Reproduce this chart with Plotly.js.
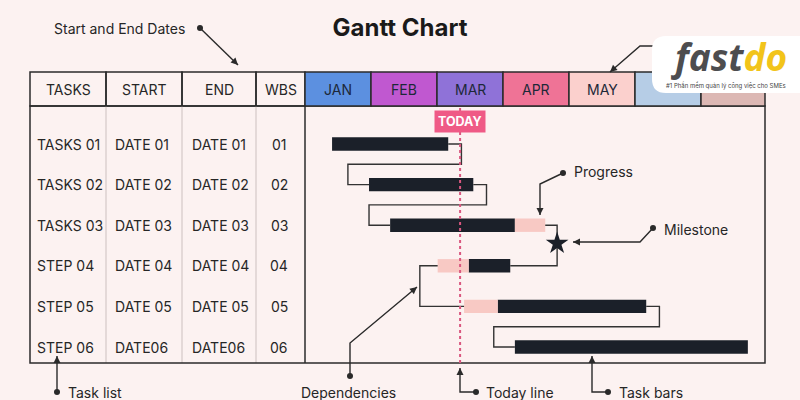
<!DOCTYPE html>
<html><head><meta charset="utf-8">
<script src="https://cdn.plot.ly/plotly-3.0.1.min.js"></script>
<style>html,body{margin:0;padding:0;background:#fcf2f1;}#chart{width:800px;height:400px;}</style>
</head><body><div id="chart"></div>
<script>
// ---------- data ----------
const taskNames = ['TASKS 01','TASKS 02','TASKS 03','STEP 04','STEP 05','STEP 06'];
const startLabels = ['DATE 01','DATE 02','DATE 03','DATE 04','DATE 05','DATE06'];
const endLabels = ['DATE 01','DATE 02','DATE 03','DATE 04','DATE 05','DATE06'];
const wbsCodes = ['01','02','03','04','05','06'];
const headerLabels = ['TASKS','START','END','WBS'];
const monthLabels = ['JAN','FEB','MAR','APR','MAY','',''];
const monthColors = ['#5c90e0','#c058d0','#8f72d8','#ef7396','#fbd0cd','#b6cde6','#dcb8b4'];
// task bars, in months from start of JAN
const taskStart = [0.41, 0.97, 1.29, 2.48, 2.92, 3.18];
const taskEnd   = [2.17, 2.55, 3.18, 3.11, 5.17, 6.71];
// light (progress) segments
const slackStart = [null, null, 3.18, 2.01, 2.41, null];
const slackEnd   = [null, null, 3.64, 2.48, 2.92, null];
const todayValue = 2.35;
const milestoneX = 3.82;
const milestoneRow = 2.45;
// dependencies: [from, to, type]
const links = [[0,1,'FS'],[1,2,'FS'],[3,4,'SS'],[4,5,'FS']];
const milestoneLinks = [2, 3];

// ---------- layout geometry ----------
const W = 800, H = 400;
const X0 = 305, MW = 66, Y0 = 144, RH = 40.6;
const P = x => x / W;
const Q = y => 1 - y / H;
const DARK = '#2b2b2b', LIGHT = '#dcd0cf', TXT = '#262626';
const FONT = 'Inter, "Noto Sans", sans-serif';

const rows = taskNames.map((_, i) => i);
const rowStart = i => Math.min(taskStart[i], slackStart[i] == null ? Infinity : slackStart[i]);
const rowEnd = i => Math.max(taskEnd[i], slackEnd[i] == null ? -Infinity : slackEnd[i]);

// connectors
const cx = [], cy = [];
const OUT = 0.2, BACK = 0.32, BACK2 = 0.27;
links.forEach(([a, b, t]) => {
  if (t === 'FS') {
    const e = rowEnd(a), s = rowStart(b);
    cx.push(e, e + OUT, e + OUT, s - BACK, s - BACK, s, null);
    cy.push(a, a, a + 0.5, a + 0.5, b, b, null);
  } else {
    const s1 = rowStart(a), s2 = rowStart(b);
    cx.push(s1, s1 - BACK2, s1 - BACK2, s2, null);
    cy.push(a, a, b, b, null);
  }
});
milestoneLinks.forEach(r => {
  cx.push(rowEnd(r), milestoneX, milestoneX, null);
  cy.push(r, r, milestoneRow, null);
});

const traces = [
  {type: 'scatter', mode: 'lines', x: cx, y: cy, line: {color: '#333', width: 1.4}, hoverinfo: 'skip', showlegend: false},
  {type: 'bar', orientation: 'h', y: rows, base: taskStart, x: taskEnd.map((e, i) => e - taskStart[i]),
   width: 0.33, marker: {color: '#1b2029'}, hoverinfo: 'skip', showlegend: false},
  {type: 'bar', orientation: 'h', y: rows, base: slackStart,
   x: slackEnd.map((e, i) => e == null ? null : e - slackStart[i]),
   width: 0.33, marker: {color: '#f8c9c4'}, hoverinfo: 'skip', showlegend: false},
  {type: 'scatter', mode: 'markers', x: [milestoneX], y: [milestoneRow],
   marker: {symbol: 'star', size: 17, color: '#1b2029', line: {width: 0}}, hoverinfo: 'skip', showlegend: false}
];

const shapes = [];
const annotations = [];
function txt(o) { annotations.push(Object.assign({showarrow: false, xanchor: 'center', yanchor: 'middle'}, o)); }

// table header cells (left)
const colEdges = [30, 106, 182, 256, 305];
for (let i = 0; i < 4; i++) {
  shapes.push({type: 'rect', xref: 'paper', yref: 'paper', x0: P(colEdges[i]), x1: P(colEdges[i+1]),
    y0: Q(106), y1: Q(72), line: {color: DARK, width: 1.5}, fillcolor: 'rgba(0,0,0,0)', layer: 'below'});
  txt({xref: 'paper', yref: 'paper', x: P((colEdges[i] + colEdges[i+1]) / 2), y: Q(89),
    text: headerLabels[i], font: {size: 14, color: TXT, family: FONT}});
}
// body separators
[106, 182, 256].forEach(x => shapes.push({type: 'line', xref: 'paper', yref: 'paper',
  x0: P(x), x1: P(x), y0: Q(106), y1: Q(363), line: {color: LIGHT, width: 1.5}, layer: 'below'}));
shapes.push({type: 'rect', xref: 'paper', yref: 'paper', x0: P(30), x1: P(765), y0: Q(363), y1: Q(106),
  line: {color: DARK, width: 1.5}, fillcolor: 'rgba(0,0,0,0)', layer: 'below'});
shapes.push({type: 'line', xref: 'paper', yref: 'paper', x0: P(305), x1: P(305), y0: Q(363), y1: Q(106),
  line: {color: DARK, width: 1.5}, layer: 'below'});

// month header cells
const tableEnd = (765 - X0) / MW;
monthLabels.forEach((m, i) => {
  shapes.push({type: 'rect', xref: 'x', yref: 'paper', x0: i, x1: Math.min(i + 1, tableEnd),
    y0: Q(106), y1: Q(72), fillcolor: monthColors[i], line: {color: DARK, width: 1.5}, layer: 'below'});
  if (m) txt({xref: 'x', yref: 'paper', x: i + 0.5, y: Q(89), text: m,
    font: {size: 14, color: '#1d2838', family: FONT}});
});

// body text
const textCols = [[taskNames, 35, 'left'], [startLabels, 113, 'left'], [endLabels, 190, 'left'], [wbsCodes, 279, 'center']];
textCols.forEach(([arr, x, anchor]) => arr.forEach((t, i) => txt({
  xref: 'paper', yref: 'y', x: P(x), y: i, text: t, xanchor: anchor,
  font: {size: 14, color: TXT, family: FONT}})));

// today line + label
shapes.push({type: 'line', xref: 'x', yref: 'paper', x0: todayValue, x1: todayValue, y0: Q(108), y1: Q(366),
  line: {color: '#d9577f', width: 2, dash: 'dot'}, layer: 'above'});
txt({xref: 'x', yref: 'paper', x: todayValue, y: Q(121.5), text: '<b>TODAY</b>',
  bgcolor: '#ef5a86', borderpad: 3, font: {size: 12.5, color: '#ffffff', family: FONT}});

// callouts (pixel polylines)
function callout(pts, dot, arrow) {
  let d = 'M ' + pts.map(p => P(p[0]) + ' ' + Q(p[1])).join(' L ');
  shapes.push({type: 'path', xref: 'paper', yref: 'paper', path: d, line: {color: '#2a2a2a', width: 1.4}, layer: 'above'});
  if (dot) {
    const [x, y] = pts[0];
    shapes.push({type: 'circle', xref: 'paper', yref: 'paper', x0: P(x - 3), x1: P(x + 3), y0: Q(y + 3), y1: Q(y - 3),
      fillcolor: '#2a2a2a', line: {width: 0}, layer: 'above'});
  }
  if (arrow) {
    const [x2, y2] = pts[pts.length - 1], [x1, y1] = pts[pts.length - 2];
    const L = Math.hypot(x2 - x1, y2 - y1), ux = (x2 - x1) / L, uy = (y2 - y1) / L;
    const bx = x2 - ux * 7, by = y2 - uy * 7;
    const a = [bx - uy * 3.5, by + ux * 3.5], b = [bx + uy * 3.5, by - ux * 3.5];
    shapes.push({type: 'path', xref: 'paper', yref: 'paper',
      path: `M ${P(x2)} ${Q(y2)} L ${P(a[0])} ${Q(a[1])} L ${P(b[0])} ${Q(b[1])} Z`,
      fillcolor: '#2a2a2a', line: {width: 0}, layer: 'above'});
  }
}
callout([[200, 28], [238, 65]], true, true);
callout([[660, 46], [640, 46], [610, 72]], false, true);
callout([[563, 173], [540, 184], [540, 215]], true, true);
callout([[653, 228], [640, 242], [573, 242]], true, true);
callout([[350, 376], [350, 343], [417, 287]], true, true);
callout([[476, 392], [460, 392], [460, 368]], true, true);
callout([[608, 392], [592, 392], [592, 356]], true, true);
callout([[57, 392], [57, 356]], true, true);

const labelStyle = {size: 14, color: TXT, family: FONT};
[['Start and End Dates', 52, 28, 'left'], ['Progress', 572, 172, 'left'], ['Milestone', 662, 229, 'left'],
 ['Dependencies', 348, 392, 'center'], ['Today line', 484, 392, 'left'], ['Task bars', 617, 392, 'left'],
 ['Task list', 66, 392, 'left']].forEach(([t, x, y, a]) => txt({
  xref: 'paper', yref: 'paper', x: P(x), y: Q(y), text: t, xanchor: a, font: labelStyle}));

// logo badge
shapes.push({type: 'path', xref: 'paper', yref: 'paper', layer: 'above',
  path: `M ${P(666)} ${Q(36)} L ${P(805)} ${Q(36)} L ${P(805)} ${Q(93)} L ${P(666)} ${Q(93)} Q ${P(652)} ${Q(93)} ${P(652)} ${Q(79)} L ${P(652)} ${Q(50)} Q ${P(652)} ${Q(36)} ${P(666)} ${Q(36)} Z`,
  fillcolor: '#ffffff', line: {width: 0}});
txt({xref: 'paper', yref: 'paper', x: P(729), y: Q(57),
  text: '<b><i><span style="color:#4d4d4f">fast</span><span style="color:#f2c41a">do</span></i></b>',
  font: {size: 37, family: '"Open Sans", Roboto, sans-serif'}});
txt({xref: 'paper', yref: 'paper', x: P(664), y: Q(86), xanchor: 'left',
  text: '#1 Phần mềm quản lý công việc cho SMEs', font: {size: 6, color: '#444', family: FONT}});

const layout = {
  width: W, height: H,
  margin: {l: 0, r: 0, t: 0, b: 0, pad: 0},
  paper_bgcolor: '#fcf2f1', plot_bgcolor: '#fcf2f1',
  title: {text: '<b>Gantt Chart</b>', x: 0.5, xanchor: 'center', y: Q(28), yanchor: 'middle',
    font: {size: 24, color: '#1a1a1a', family: FONT}},
  xaxis: {range: [(0 - X0) / MW, (W - X0) / MW], visible: false, fixedrange: true},
  yaxis: {range: [(H - Y0) / RH, (0 - Y0) / RH], visible: false, fixedrange: true},
  barmode: 'overlay', showlegend: false,
  shapes: shapes, annotations: annotations
};
Plotly.newPlot('chart', traces, layout, {displayModeBar: false, staticPlot: true});
</script></body></html>
